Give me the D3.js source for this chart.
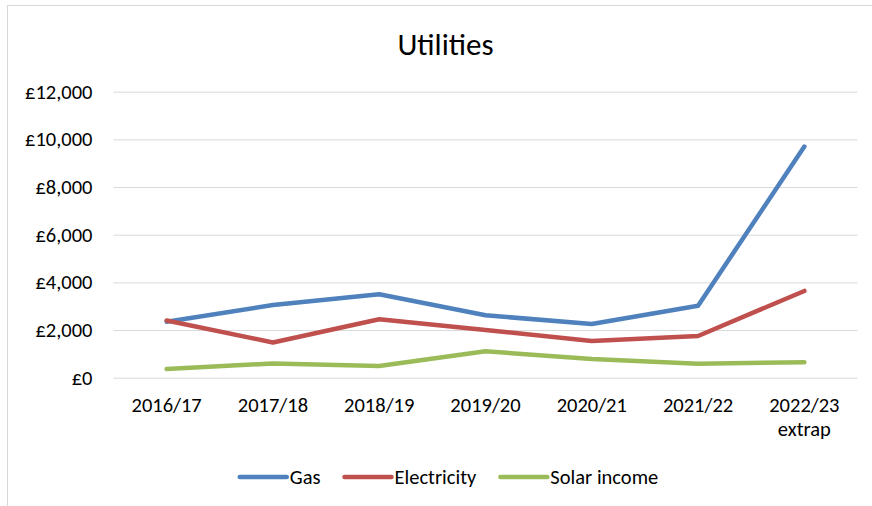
<!DOCTYPE html>
<html lang="en">
<head>
	<meta charset="UTF-8"/>
	<title>Utilities</title>
	<script src="https://d3js.org/d3.v7.min.js"></script>
	<style>
		body { margin:0; background:#fff; }
		text { font-family: Carlito, Calibri, "Liberation Sans", Arial, sans-serif; fill:#000; }
	</style>
</head>
<body>
<script>
	var w = 872;
	var h = 506;

	var years = ["2016/17","2017/18","2018/19","2019/20","2020/21","2021/22","2022/23 extrap"];
	var gas = [2350,3050,3500,2620,2250,3020,9700];
	var electricity = [2400,1480,2450,2000,1540,1750,3640];
	var solarIncome = [360,600,490,1110,780,590,650];
	var yTicks = [0,2000,4000,6000,8000,10000,12000];

	var seriesNames = ["Gas","Electricity","Solar income"];
	var seriesColours = ["#4f81bd","#c0504d","#9bbb59"];
	var seriesValues = [gas, electricity, solarIncome];

	var xScale = d3.scaleBand()
				.domain(years)
				.range([113.5, 857.5]);

	var yScale = d3.scaleLinear()
				.domain([0,12000])
				.range([377.7, 91.7]);

	var svg = d3.select("body")
				.append("svg")
				.attr("width",w)
				.attr("height",h);

	// chart border (cropped at right and bottom like the original)
	svg.append("rect")
		.attr("x",7.5)
		.attr("y",5.5)
		.attr("width",w)
		.attr("height",h)
		.attr("fill","none")
		.attr("stroke","#d9d9d9");

	//------------title-------------
	svg.append("text")
		.attr("x",445.5)
		.attr("y",55)
		.attr("text-anchor","middle")
		.style("font-size","31px")
		.text("Utilities");

	//------------y gridlines + labels-------------
	var yAxis = d3.axisLeft(yScale)
				.tickValues(yTicks)
				.tickSize(-(xScale.range()[1]-xScale.range()[0]))
				.tickPadding(21)
				.tickFormat(function(d){ return "£" + d3.format(",")(d); });

	var gy = svg.append("g")
		.attr("transform","translate(" + xScale.range()[0] + ",0)")
		.call(yAxis);
	gy.select(".domain").remove();
	gy.selectAll("line").attr("stroke","#d9d9d9");
	gy.selectAll("text")
		.style("font-size","20.5px")
		.attr("fill","#000");

	//------------x labels-------------
	var gx = svg.append("g");
	gx.selectAll("text")
		.data(years)
		.enter()
		.append("text")
		.attr("x",function(d){ return xScale(d) + xScale.bandwidth()/2; })
		.attr("y",412)
		.attr("text-anchor","middle")
		.style("font-size","20.5px")
		.each(function(d){
			var parts = d.split(" ");
			var t = d3.select(this);
			parts.forEach(function(p,i){
				t.append("tspan")
					.attr("x",xScale(d) + xScale.bandwidth()/2)
					.attr("dy",i == 0 ? 0 : 23.5)
					.text(p);
			});
		});

	//------------lines-------------
	var line = d3.line()
				.x(function(d,i){ return xScale(years[i]) + xScale.bandwidth()/2; })
				.y(function(d){ return yScale(d); });

	svg.selectAll("path.series")
		.data(seriesValues)
		.enter()
		.append("path")
		.attr("class","series")
		.attr("d",line)
		.attr("fill","none")
		.attr("stroke",function(d,i){ return seriesColours[i]; })
		.attr("stroke-width",4.5)
		.attr("stroke-linecap","round")
		.attr("stroke-linejoin","round");

	//------------legend-------------
	var legend = svg.append("g");
	var lx = 0;
	seriesNames.forEach(function(name,i){
		legend.append("line")
			.attr("x1",lx)
			.attr("x2",lx+47)
			.attr("y1",477)
			.attr("y2",477)
			.attr("stroke",seriesColours[i])
			.attr("stroke-width",4.5)
			.attr("stroke-linecap","round");
		var t = legend.append("text")
			.attr("x",lx+50)
			.attr("y",484)
			.style("font-size","20.5px")
			.text(name);
		lx = lx + 50 + t.node().getComputedTextLength() + 24;
	});
	var legendWidth = lx - 24;
	legend.attr("transform","translate(" + (449 - legendWidth/2) + ",0)");
</script>
</body>
</html>
